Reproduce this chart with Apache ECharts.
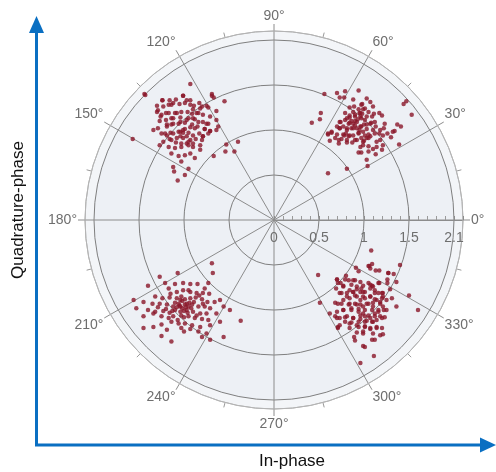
<!DOCTYPE html>
<html>
<head>
<meta charset="utf-8">
<script src="https://cdn.jsdelivr.net/npm/echarts@6/dist/echarts.min.js"></script>
<style>
  html, body { margin: 0; padding: 0; background: #fff; }
  #main { width: 496px; height: 472px; }
</style>
</head>
<body>
<div id="main"></div>
<script>
// received symbols, [in-phase, quadrature]
const cluster45 = [
  [0.56,1.40],[0.70,1.41],[0.79,1.43],[0.94,1.44],[0.73,1.36],[0.78,1.36],[0.88,1.34],[1.03,1.35],
  [1.07,1.31],[1.10,1.26],[0.98,1.29],[0.84,1.25],[0.89,1.26],[0.94,1.23],[1.01,1.24],[1.05,1.20],
  [1.11,1.18],[1.17,1.19],[1.20,1.16],[0.52,1.19],[0.51,1.12],[0.42,1.08],[1.47,1.32],[1.44,1.29],
  [1.53,1.17],[1.37,1.06],[1.41,1.04],[1.34,0.99],[1.23,1.07],[1.22,1.02],[1.18,1.00],[1.13,1.04],
  [1.08,1.08],[1.01,1.11],[0.96,1.15],[0.90,1.15],[0.84,1.16],[0.81,1.13],[0.74,1.09],[0.70,1.04],
  [0.64,0.97],[0.60,0.96],[0.62,0.88],[0.68,0.91],[0.73,1.02],[0.77,1.04],[0.81,1.00],[0.86,1.02],
  [0.83,1.07],[0.88,1.07],[0.92,1.09],[0.97,1.04],[1.03,1.01],[0.99,0.98],[0.94,0.97],[0.88,0.94],
  [0.83,0.93],[0.78,0.94],[0.75,0.90],[0.72,0.85],[0.81,0.86],[0.87,0.86],[0.92,0.89],[0.97,0.91],
  [1.03,0.91],[1.07,0.93],[1.12,0.96],[1.17,0.96],[1.21,0.94],[1.26,0.96],[1.30,0.92],[1.32,0.98],
  [1.39,0.84],[1.18,0.89],[1.21,0.83],[1.14,0.81],[1.10,0.79],[1.05,0.82],[0.99,0.83],[0.96,0.81],
  [0.94,0.75],[0.97,0.75],[1.05,0.76],[1.13,0.73],[1.20,0.78],[1.03,0.67],[1.04,0.60],[0.81,0.57],
  [1.07,1.07],[1.10,1.00],[1.14,0.87],[0.92,1.02],[0.79,1.19],[0.95,1.19],[0.88,1.20],[1.09,1.15],
  [0.90,1.05],[0.95,1.00],[1.00,1.06],[0.86,1.10],[1.05,0.95],[0.93,1.12],[1.12,1.09],[0.80,0.96],
  [1.00,0.88],[0.98,1.18],[0.60,0.52],
  [0.97,1.28],[0.99,1.23],[0.96,1.19],[0.90,1.17],[0.84,1.14],[0.79,1.11],[0.73,1.09],[0.84,1.08],
  [0.90,1.10],[0.97,1.13],[1.03,1.15],[0.73,1.02],[0.81,1.02],[0.88,1.02],[0.96,1.04],[1.03,1.06],
  [0.64,0.98],[0.60,0.95],[0.70,0.95],[0.77,0.95],[0.84,0.94],[0.94,0.96],[1.01,0.94],[0.72,0.89],
  [0.81,0.89],[0.90,0.89],[0.99,0.87],[1.05,0.91]
];
const cluster135 = [
  [-0.93,1.51],[-1.44,1.40],[-0.69,1.40],[-0.67,1.36],[-0.55,1.32],[-1.24,1.33],[-1.16,1.33],[-1.09,1.34],
  [-1.01,1.38],[-0.93,1.33],[-0.83,1.30],[-0.75,1.27],[-0.64,1.21],[-1.30,1.27],[-1.23,1.26],[-1.14,1.28],
  [-1.05,1.29],[-0.99,1.30],[-0.89,1.27],[-0.82,1.24],[-1.30,1.20],[-1.25,1.17],[-1.17,1.19],[-1.10,1.19],
  [-1.03,1.20],[-0.96,1.20],[-0.91,1.18],[-0.84,1.19],[-0.79,1.17],[-0.71,1.15],[-0.64,1.11],[-1.27,1.10],
  [-1.20,1.11],[-1.12,1.13],[-1.04,1.14],[-0.95,1.13],[-0.88,1.12],[-0.79,1.09],[-0.73,1.07],[-1.29,1.02],
  [-1.19,1.04],[-1.14,1.06],[-1.06,1.07],[-0.99,1.08],[-0.91,1.06],[-0.85,1.04],[-0.77,1.01],[-0.71,0.99],
  [-0.64,1.00],[-0.62,1.04],[-1.25,0.96],[-1.19,0.94],[-1.12,0.96],[-1.04,0.98],[-1.01,1.00],[-0.95,0.97],
  [-0.90,0.94],[-0.83,0.96],[-0.79,0.93],[-1.23,0.87],[-1.16,0.90],[-1.08,0.91],[-1.01,0.91],[-0.93,0.89],
  [-0.87,0.90],[-0.80,0.89],[-1.27,0.83],[-1.17,0.81],[-1.10,0.80],[-1.03,0.81],[-0.95,0.83],[-0.90,0.81],
  [-0.82,0.78],[-1.14,0.74],[-1.06,0.71],[-0.99,0.72],[-0.93,0.74],[-0.88,0.69],[-1.03,0.65],[-1.12,0.59],
  [-1.11,0.54],[-1.07,0.44],[-0.99,0.50],[-0.95,0.57],[-0.67,0.71],[-0.53,0.84],[-0.44,0.76],[-0.40,0.87],
  [-0.54,0.76],[-1.34,1.00],[-1.57,0.90],[-0.97,0.85],
  [-1.43,1.39],[-1.29,1.22],[-1.24,1.33],[-1.17,1.28],[-1.12,1.30],[-1.01,1.38],[-0.97,1.33],[-0.93,1.28],
  [-0.90,1.23],[-0.86,1.19],[-0.80,1.26],[-0.73,1.25],[-0.69,1.38],[-1.26,1.15],[-1.20,1.19],[-1.14,1.13],
  [-1.08,1.19],[-1.04,1.09],[-0.97,1.11],[-0.90,1.13],[-0.84,1.09],[-0.75,1.07],[-1.19,1.06],[-1.12,1.07],
  [-1.21,0.96],[-1.15,0.97],[-1.06,0.98],[-1.01,0.97],[-0.99,1.01],[-0.93,1.03],[-0.88,1.02],[-0.77,1.01],
  [-0.71,0.99],[-1.14,0.89],[-1.09,0.86],[-1.03,0.85],[-0.95,0.87],[-0.90,0.85],[-0.82,0.83],[-0.79,0.93],
  [-0.73,0.96],[-1.04,0.93],[-0.97,0.93]
];
const cluster225 = [
  [-0.69,-0.48],[-0.68,-0.59],[-1.07,-0.59],[-1.27,-0.63],[-1.40,-0.73],[-1.21,-0.70],[-1.10,-0.71],[-1.01,-0.70],
  [-0.93,-0.71],[-0.85,-0.71],[-0.73,-0.70],[-0.77,-0.76],[-1.17,-0.76],[-1.08,-0.80],[-1.01,-0.78],[-0.93,-0.80],
  [-0.86,-0.81],[-0.79,-0.81],[-0.72,-0.82],[-1.32,-0.85],[-1.24,-0.87],[-1.16,-0.86],[-1.08,-0.87],[-1.03,-0.85],
  [-0.99,-0.88],[-0.93,-0.87],[-0.87,-0.86],[-0.80,-0.88],[-0.74,-0.91],[-0.66,-0.91],[-0.60,-0.89],[-1.56,-0.89],
  [-1.45,-0.91],[-1.35,-0.93],[-1.27,-0.93],[-1.19,-0.94],[-1.12,-0.96],[-1.04,-0.96],[-0.99,-0.94],[-0.91,-0.94],
  [-0.84,-0.96],[-0.77,-0.96],[-0.71,-0.98],[-1.53,-0.98],[-1.40,-1.00],[-1.32,-1.02],[-1.23,-1.01],[-1.16,-1.03],
  [-1.10,-1.00],[-1.04,-1.02],[-0.97,-1.00],[-0.90,-1.02],[-0.82,-1.04],[-0.75,-1.04],[-0.64,-1.04],[-0.49,-1.00],
  [-0.56,-0.96],[-1.45,-1.07],[-1.34,-1.04],[-1.25,-1.07],[-1.17,-1.09],[-1.12,-1.07],[-1.03,-1.06],[-0.95,-1.07],
  [-0.88,-1.09],[-0.80,-1.10],[-0.73,-1.11],[-1.25,-1.16],[-1.14,-1.13],[-1.06,-1.15],[-0.99,-1.15],[-0.91,-1.17],
  [-0.82,-1.19],[-0.71,-1.17],[-0.60,-1.13],[-1.45,-1.20],[-1.34,-1.19],[-1.19,-1.22],[-1.03,-1.20],[-0.93,-1.21],
  [-0.84,-1.24],[-0.75,-1.26],[-1.25,-1.29],[-1.14,-1.35],[-0.80,-1.30],[-0.71,-1.33],[-0.56,-1.30],[-1.00,-1.24],
  [-0.37,-1.12],[-1.02,-0.98],[-0.96,-1.03],[-1.06,-0.93],[-0.94,-0.92],[-1.00,-1.08],
  [-1.02,-0.90],[-0.97,-0.93],[-1.05,-0.95],[-0.98,-0.97],[-1.08,-0.97],[-1.00,-1.01],[-0.95,-0.96],[-1.10,-0.92],
  [-0.92,-0.98],[-1.04,-0.89],[-1.13,-1.01],[-0.89,-0.91],[-1.07,-1.11],[-0.86,-1.06],[-1.20,-0.99],[-0.79,-0.93],
  [-1.15,-0.82],[-0.83,-0.84],[-1.29,-0.97],[-0.95,-0.78]
];
const cluster315 = [
  [1.08,-0.34],[0.49,-0.61],[1.40,-0.50],[1.05,-0.51],[1.07,-0.54],[1.13,-0.56],[1.27,-0.59],[1.33,-0.60],
  [0.80,-0.62],[0.70,-0.66],[0.83,-0.67],[0.90,-0.67],[0.96,-0.69],[0.71,-0.70],[0.77,-0.73],[0.86,-0.72],
  [0.92,-0.74],[0.99,-0.73],[1.05,-0.70],[1.09,-0.73],[1.16,-0.70],[1.26,-0.66],[1.36,-0.69],[1.26,-0.70],
  [1.12,-0.78],[1.07,-0.76],[1.01,-0.80],[0.96,-0.80],[0.88,-0.80],[0.81,-0.81],[0.75,-0.81],[1.16,-0.81],
  [1.21,-0.81],[1.29,-0.77],[1.31,-0.87],[1.25,-0.89],[1.20,-0.87],[1.14,-0.89],[1.07,-0.85],[0.99,-0.85],
  [0.92,-0.85],[0.84,-0.87],[0.77,-0.89],[0.71,-0.93],[0.83,-0.94],[0.90,-0.93],[0.96,-0.94],[1.03,-0.93],
  [1.10,-0.92],[1.18,-0.93],[1.22,-1.00],[1.16,-1.02],[1.09,-1.00],[1.01,-1.00],[0.94,-0.99],[0.86,-0.98],
  [0.77,-1.00],[0.70,-1.02],[0.68,-1.07],[0.73,-1.09],[0.81,-1.07],[0.88,-1.09],[0.96,-1.06],[1.01,-1.07],
  [1.07,-1.09],[1.12,-1.07],[1.20,-1.09],[0.79,-1.13],[0.86,-1.14],[0.94,-1.13],[1.01,-1.13],[1.09,-1.13],
  [1.14,-1.11],[0.73,-1.17],[0.84,-1.20],[0.94,-1.19],[1.01,-1.18],[1.07,-1.21],[1.14,-1.20],[0.71,-1.20],
  [0.92,-1.25],[0.99,-1.26],[1.10,-1.26],[1.18,-1.28],[1.21,-1.27],[1.09,-1.33],[0.89,-1.30],[0.90,-1.34],
  [0.99,-1.40],[1.01,-1.41],[1.11,-1.51],[1.36,-0.96],[1.50,-0.84],[1.60,-1.00],[0.51,-0.92],[0.62,-1.04],
  [1.12,-1.33],[0.96,-1.59],
  [0.91,-0.53],[1.06,-0.51],[1.09,-0.49],[1.17,-0.56],[0.94,-0.57],[1.27,-0.59],[0.70,-0.66],[0.74,-0.70],
  [0.79,-0.66],[0.88,-0.67],[0.69,-0.76],[0.77,-0.74],[0.84,-0.78],[0.88,-0.80],[0.92,-0.77],[0.97,-0.76],
  [0.99,-0.80],[1.07,-0.72],[1.10,-0.74],[1.12,-0.81],[1.17,-0.70],[1.20,-0.81],[0.73,-0.81],[0.81,-0.85],
  [0.90,-0.84],[0.96,-0.89],[1.01,-0.87],[1.07,-0.85],[1.12,-0.88],[1.18,-0.91],[1.21,-0.85],[0.68,-0.92],
  [0.75,-0.93],[0.84,-0.93],[0.92,-0.94],[0.99,-0.96],[1.05,-0.93],[1.10,-0.96],[1.16,-1.00],[1.21,-0.96],
  [1.25,-1.00],[0.77,-1.00],[0.86,-1.00],[0.94,-1.02],[0.99,-1.04],[1.05,-1.06],[1.12,-1.04],[1.18,-1.07],
  [1.23,-1.08],[0.70,-1.09],[0.79,-1.08],[0.88,-1.09],[0.96,-1.10],[1.03,-1.12],[1.10,-1.13],[0.84,-1.15],
  [0.92,-1.17],[1.01,-1.19],[1.07,-1.20],[1.14,-1.19],[1.20,-1.20],[0.71,-1.19],[0.99,-1.24]
];

const clusters = [cluster45, cluster135, cluster225, cluster315];
const angleTicks = 30;      // degrees between spokes
const radiusMax = 2.1;

function toPolar(pairs) {
  return pairs.map(function (p) {
    const r = Math.sqrt(p[0] * p[0] + p[1] * p[1]);
    let a = Math.atan2(p[1], p[0]) * 180 / Math.PI;
    if (a < 0) a += 360;
    return [r, a];
  });
}

const points = [];
clusters.forEach(function (c) {
  toPolar(c).forEach(function (p) { points.push(p); });
});

const blue = '#0a6fc2';
const cx = 274, cy = 220, R = 189;
const myChart = echarts.init(document.getElementById('main'));

const option = {
  backgroundColor: '#ffffff',
  animation: false,
  polar: {
    center: [cx, cy],
    radius: R
  },
  angleAxis: {
    type: 'value',
    min: 0,
    max: 360,
    interval: angleTicks,
    startAngle: 0,
    clockwise: false,
    axisLine: { lineStyle: { color: '#b4b4b4', width: 1 } },
    axisTick: { show: true, length: 7, lineStyle: { color: '#8c8c8c' } },
    minorTick: { show: true, splitNumber: 2, length: 5, lineStyle: { color: '#9a9a9a' } },
    axisLabel: {
      margin: 8,
      color: '#6e6e6e',
      fontSize: 14,
      fontFamily: 'Liberation Sans',
      formatter: '{value}°'
    },
    splitLine: { show: true, lineStyle: { color: '#8c8c8c', width: 1 } }
  },
  radiusAxis: {
    type: 'value',
    min: 0,
    max: radiusMax,
    interval: 0.5,
    axisLine: { show: true, lineStyle: { color: '#8c8c8c' } },
    axisTick: { show: true, length: 4, lineStyle: { color: '#8c8c8c' } },
    minorTick: { show: true, splitNumber: 5, length: 4, lineStyle: { color: '#9a9a9a' } },
    axisLabel: {
      margin: -11,
      verticalAlign: 'top',
      color: '#6e6e6e',
      fontSize: 14,
      fontFamily: 'Liberation Sans',
      formatter: function (v) {
        if (Math.abs(v - 2) < 1e-9) return '2.1';
        if (Math.abs(v - radiusMax) < 1e-9) return '';
        return String(v);
      }
    },
    splitLine: {
      show: true,
      lineStyle: { color: ['#7f7f7f', '#7f7f7f', '#7f7f7f', '#7f7f7f', '#7f7f7f', '#b4b4b4'], width: 1 }
    },
    splitArea: { show: false }
  },
  series: [
    {
      type: 'scatter',
      coordinateSystem: 'polar',
      symbolSize: 4.5,
      itemStyle: { color: '#8a1729' },
      data: points
    }
  ],
  graphic: {
    elements: [
      // plot background disc behind the polar grid
      { type: 'circle', z: -100, shape: { cx: cx, cy: cy, r: R }, style: { fill: '#f3f5f8' } },
      { type: 'circle', z: -99, shape: { cx: cx, cy: cy, r: R * 2 / radiusMax }, style: { fill: '#edf0f5' } },
      // vertical (quadrature) arrow
      { type: 'line', shape: { x1: 36.5, y1: 446, x2: 36.5, y2: 30 }, style: { stroke: blue, lineWidth: 3 } },
      { type: 'polygon', shape: { points: [[36.5, 16], [29, 33], [44, 33]] }, style: { fill: blue } },
      // horizontal (in-phase) arrow
      { type: 'line', shape: { x1: 35, y1: 445, x2: 482, y2: 445 }, style: { stroke: blue, lineWidth: 3 } },
      { type: 'polygon', shape: { points: [[496, 445], [480, 437.5], [480, 452.5]] }, style: { fill: blue } },
      {
        type: 'text',
        x: 18, y: 210,
        rotation: Math.PI / 2,
        style: {
          text: 'Quadrature-phase',
          fontSize: 17,
          fontFamily: 'Liberation Sans',
          fill: '#111',
          align: 'center',
          verticalAlign: 'middle'
        }
      },
      {
        type: 'text',
        x: 292, y: 461,
        style: {
          text: 'In-phase',
          fontSize: 17,
          fontFamily: 'Liberation Sans',
          fill: '#111',
          align: 'center',
          verticalAlign: 'middle'
        }
      }
    ]
  }
};

myChart.setOption(option);
</script>
</body>
</html>
